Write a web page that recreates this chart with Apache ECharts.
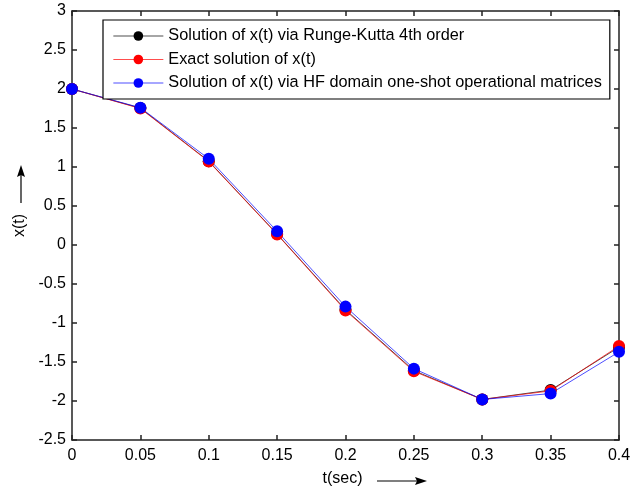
<!DOCTYPE html>
<html>
<head>
<meta charset="utf-8">
<script src="https://cdn.jsdelivr.net/npm/echarts@6/dist/echarts.min.js"></script>
<style>html,body{margin:0;padding:0;background:#fff}#c{width:641px;height:486px}</style>
</head>
<body>
<div id="c"></div>
<script>
var tValues = [0, 0.05, 0.1, 0.15, 0.2, 0.25, 0.3, 0.35, 0.4];
var rk4Values = [2, 1.755, 1.075, 0.14, -0.83, -1.61, -1.98, -1.86, -1.31];
var exactValues = [2, 1.75, 1.07, 0.136, -0.84, -1.62, -1.98, -1.87, -1.295];
var hfValues = [2, 1.76, 1.105, 0.175, -0.79, -1.585, -1.98, -1.905, -1.37];
var seriesNames = [
  'Solution of x(t) via Runge-Kutta 4th order',
  'Exact solution of x(t)',
  'Solution of x(t) via HF domain one-shot operational matrices'
];
var xAxisName = 't(sec)';
var yAxisName = 'x(t)';

function pairs(vals) { return tValues.map(function (t, i) { return [t, vals[i]]; }); }

var FONT = 'Liberation Sans, Arial, sans-serif';
var axisLineStyle = { color: '#222', width: 1.5 };

function mkSeries(name, vals, color) {
  return {
    name: name, type: 'line', data: pairs(vals),
    symbol: 'circle', symbolSize: 12,
    lineStyle: { color: color, width: 0.7 },
    itemStyle: { color: color },
    emphasis: { disabled: true }, animation: false
  };
}

var chart = echarts.init(document.getElementById('c'), null, { renderer: 'canvas' });
chart.setOption({
  animation: false,
  backgroundColor: '#fff',
  grid: { left: 72, right: 22, top: 11, bottom: 46, containLabel: false, outerBoundsMode: 'none' },
  legend: {
    orient: 'vertical', left: 103, top: 20,
    backgroundColor: '#fff', borderColor: '#000', borderWidth: 1.2, borderRadius: 0,
    padding: [8, 8, 8, 10], itemGap: 7.5, itemWidth: 50, itemHeight: 12,
    lineStyle: { width: 0.7 },
    textStyle: { fontFamily: FONT, fontSize: 16.3, color: '#000' },
    data: seriesNames
  },
  xAxis: [{
    type: 'value', min: 0, max: 0.4, interval: 0.05, position: 'bottom',
    name: xAxisName, nameLocation: 'middle', nameGap: 31,
    nameTextStyle: { fontFamily: FONT, fontSize: 16, color: '#000', padding: [0, 0, 0, -6] },
    axisLine: { show: true, onZero: false, lineStyle: axisLineStyle },
    axisTick: { show: true, inside: true, length: 5, lineStyle: axisLineStyle },
    axisLabel: { fontFamily: FONT, fontSize: 16, color: '#000', margin: 8,
      formatter: function (v) { return String(+v.toFixed(2)); } },
    splitLine: { show: false }
  }, {
    type: 'value', min: 0, max: 0.4, interval: 0.05, position: 'top',
    axisLine: { show: true, onZero: false, lineStyle: axisLineStyle },
    axisTick: { show: true, inside: true, length: 5, lineStyle: axisLineStyle },
    axisLabel: { show: false }, splitLine: { show: false }
  }],
  yAxis: [{
    type: 'value', min: -2.5, max: 3, interval: 0.5, position: 'left',
    name: yAxisName, nameLocation: 'middle', nameGap: 43, nameRotate: 90,
    nameTextStyle: { fontFamily: FONT, fontSize: 16, color: '#000' },
    axisLine: { show: true, onZero: false, lineStyle: axisLineStyle },
    axisTick: { show: true, inside: true, length: 5, lineStyle: axisLineStyle },
    axisLabel: { fontFamily: FONT, fontSize: 16, color: '#000', margin: 6 },
    splitLine: { show: false }
  }, {
    type: 'value', min: -2.5, max: 3, interval: 0.5, position: 'right',
    axisLine: { show: true, onZero: false, lineStyle: axisLineStyle },
    axisTick: { show: true, inside: true, length: 5, lineStyle: axisLineStyle },
    axisLabel: { show: false }, splitLine: { show: false }
  }],
  graphic: [
    { type: 'line', shape: { x1: 21, y1: 203, x2: 21, y2: 175 }, style: { stroke: '#000', lineWidth: 1.2 } },
    { type: 'polygon', shape: { points: [[21, 165], [17, 177], [21, 175], [25, 177]] }, style: { fill: '#000' } },
    { type: 'line', shape: { x1: 377, y1: 481, x2: 418, y2: 481 }, style: { stroke: '#000', lineWidth: 1.2 } },
    { type: 'polygon', shape: { points: [[427, 481], [415, 477], [417, 481], [415, 485]] }, style: { fill: '#000' } }
  ],
  series: [
    mkSeries(seriesNames[0], rk4Values, '#000000'),
    mkSeries(seriesNames[1], exactValues, '#ff0000'),
    mkSeries(seriesNames[2], hfValues, '#0000ff')
  ]
});
</script>
</body>
</html>
